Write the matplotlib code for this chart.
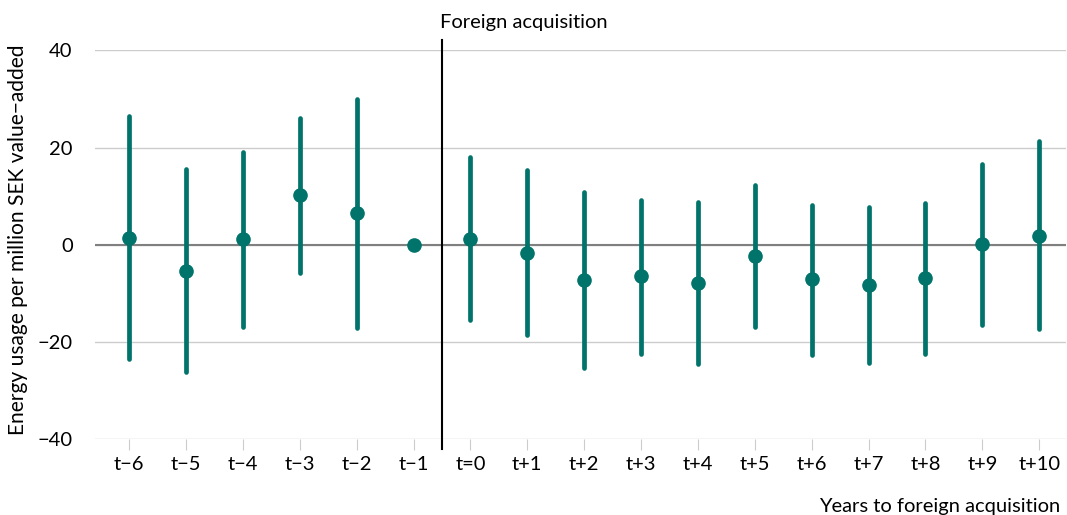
import numpy as np
import matplotlib.pyplot as plt

# Event-study estimates
labels = ["t\u22126", "t\u22125", "t\u22124", "t\u22123", "t\u22122", "t\u22121",
          "t=0", "t+1", "t+2", "t+3", "t+4", "t+5", "t+6", "t+7", "t+8", "t+9", "t+10"]
estimate = [1.5, -5.3, 1.2, 10.2, 6.5, 0.0,
            1.2, -1.6, -7.3, -6.5, -7.9, -2.2, -7.1, -8.3, -6.8, 0.1, 1.9]
ci_low = [-23.4, -26.2, -16.9, -5.7, -17.1, np.nan,
          -15.5, -18.6, -25.4, -22.4, -24.6, -16.9, -22.6, -24.4, -22.4, -16.5, -17.4]
ci_high = [26.5, 15.6, 19.1, 26.1, 30.0, np.nan,
           18.0, 15.5, 10.8, 9.3, 8.8, 12.4, 8.2, 7.8, 8.6, 16.6, 21.3]
event_pos = 5.5  # between t-1 and t=0

TEAL = "#00736a"
plt.rcParams["font.family"] = ["Lato", "DejaVu Sans"]

fig = plt.figure(figsize=(10.67, 5.15), dpi=100)
ax = fig.add_axes([0.089, 0.147, 0.91, 0.755])

x = np.arange(len(labels))
ax.vlines(x, ci_low, ci_high, color=TEAL, linewidth=3.4, capstyle="round", zorder=3)
ax.plot(x, estimate, "o", color=TEAL, markersize=9.5, zorder=4)

ax.set_xlim(-0.6, 16.47)
ax.set_ylim(-40, 40)
ax.set_yticks([-40, -20, 0, 20, 40])
ax.set_yticklabels(["\u221240", "\u221220", "0", "20", "40"])
ax.set_xticks(x)
ax.set_xticklabels(labels)

ax.grid(axis="y", color="#cccccc", linewidth=1)
ax.axhline(0, color="#808080", linewidth=1.5, zorder=2)
ax.axvline(event_pos, ymin=-0.025, ymax=1.028, color="black", linewidth=1.5,
           clip_on=False, zorder=5)
ax.text(event_pos - 0.03, 44.6, "Foreign acquisition", ha="left", va="baseline", fontsize=14.5)

for s in ["top", "right", "left", "bottom"]:
    ax.spines[s].set_visible(False)
ax.tick_params(axis="y", length=0, labelsize=14.5, pad=16)
ax.tick_params(axis="x", length=8, color="#cccccc", labelsize=14.5, pad=4)

# y-axis title placed directly so its centre sits where the reference has it
fig.text(18 / 1067, 1 - 240 / 515, "Energy usage per million SEK value\u2212added",
         rotation=90, ha="center", va="center", fontsize=15.1)
fig.text(0.994, 0.016, "Years to foreign acquisition", ha="right", va="center", fontsize=14.5)

fig.savefig("out.png", dpi=100)
